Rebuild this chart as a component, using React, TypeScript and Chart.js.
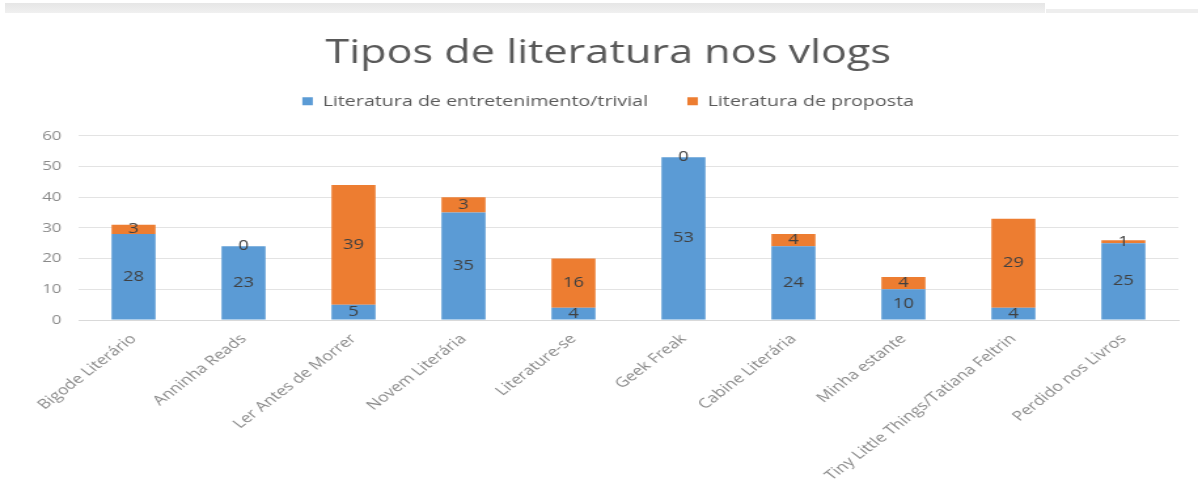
import React, { useEffect, useRef } from "react";
import { Chart, registerables } from "chart.js";

Chart.register(...registerables);

const categories = [
  "Bigode Literário",
  "Anninha Reads",
  "Ler Antes de Morrer",
  "Novem Literária",
  "Literature-se",
  "Geek Freak",
  "Cabine Literária",
  "Minha estante",
  "Tiny Little Things/Tatiana Feltrin",
  "Perdido nos Livros",
];
const entretenimento = [28, 24, 5, 35, 4, 53, 24, 10, 4, 25];
const proposta = [3, 0, 39, 5, 16, 0, 4, 4, 29, 1];
const entretenimentoLabels = ["28", "23", "5", "35", "4", "53", "24", "10", "4", "25"];
const propostaLabels = ["3", "0", "39", "3", "16", "0", "4", "4", "29", "1"];
const yTicks = [0, 10, 20, 30, 40, 50, 60];

const BLUE = "#5B9BD5";
const ORANGE = "#ED7D31";
const FONT = "'Open Sans', 'DejaVu Sans', sans-serif";

// the reference is horizontally stretched: draw narrower canvas and stretch it
const CANVAS_W = 935;
const STRETCH = 1198 / 915;

const labelPlugin = {
  id: "segLabels",
  afterDatasetsDraw(chart: any) {
    const ctx = chart.ctx;
    const sets = [entretenimentoLabels, propostaLabels];
    ctx.save();
    ctx.font = `14px ${FONT}`;
    ctx.fillStyle = "#404040";
    ctx.textAlign = "center";
    ctx.textBaseline = "middle";
    chart.data.datasets.forEach((ds: any, di: number) => {
      const meta = chart.getDatasetMeta(di);
      meta.data.forEach((bar: any, i: number) => {
        const y = (bar.y + bar.base) / 2;
        ctx.fillText(sets[di][i], bar.x, y);
      });
    });
    ctx.restore();
  },
};

export default function App() {
  const ref = useRef<HTMLCanvasElement>(null);
  useEffect(() => {
    if (!ref.current) return;
    const chart = new Chart(ref.current, {
      type: "bar",
      data: {
        labels: categories,
        datasets: [
          {
            label: "Literatura de entretenimento/trivial",
            data: entretenimento,
            backgroundColor: BLUE,
            barPercentage: 0.4,
            categoryPercentage: 1,
          },
          {
            label: "Literatura de proposta",
            data: proposta,
            backgroundColor: ORANGE,
            barPercentage: 0.4,
            categoryPercentage: 1,
          },
        ],
      },
      options: {
        responsive: false,
        animation: false,
        devicePixelRatio: 1,
        layout: { padding: { left: 0, right: 6, top: 44, bottom: 0 } },
        plugins: {
          title: {
            display: true,
            text: "Tipos de literatura nos vlogs",
            color: "#595959",
            font: { family: FONT, size: 33, weight: "normal" as any, lineHeight: 0.6 },
            padding: { top: 0, bottom: 0 },
          },
          legend: {
            display: true,
            labels: {
              color: "#595959",
              font: { family: FONT, size: 15 },
              boxWidth: 8,
              boxHeight: 8,
              padding: 30,
            },
          },
          tooltip: { enabled: false },
        },
        scales: {
          x: {
            stacked: true,
            grid: { display: false },
            border: { color: "#d9d9d9" },
            ticks: {
              color: "#8a8a8a",
              font: { family: FONT, size: 13.5 },
              maxRotation: 45,
              minRotation: 45,
              autoSkip: false,
            },
            afterFit(scale: any) {
              scale.height = 180;
            },
          },
          xTop: {
            type: "category",
            position: "top",
            grid: { display: false },
            border: { display: false },
            ticks: { display: false },
            afterFit(scale: any) {
              scale.height = 17;
            },
          },
          y: {
            stacked: true,
            min: 0,
            max: 60,
            grid: { color: "#e3e3e3", drawTicks: false },
            border: { display: false },
            ticks: {
              stepSize: 10,
              color: "#8a8a8a",
              font: { family: FONT, size: 13 },
              padding: 13,
              callback: (v: any) => (yTicks.includes(v) ? String(v) : ""),
            },
            afterFit(scale: any) {
              scale.width = 60;
            },
          },
          yRight: {
            position: "right",
            min: 0,
            max: 60,
            grid: { display: false },
            border: { display: false },
            ticks: { display: false },
            afterFit(scale: any) {
              scale.width = 29;
            },
          },
        },
      },
      plugins: [labelPlugin],
    });
    return () => chart.destroy();
  }, []);

  return (
    <div
      style={{
        position: "absolute",
        left: 0,
        top: 0,
        width: 1198,
        height: 500,
        background: "#fff",
        overflow: "hidden",
      }}
    >
      <canvas
        ref={ref}
        width={CANVAS_W}
        height={500}
        style={{
          position: "absolute",
          left: 0,
          top: 0,
          width: CANVAS_W,
          height: 500,
          transform: `scaleX(${STRETCH})`,
          transformOrigin: "0 0",
        }}
      />
      <div
        style={{
          position: "absolute",
          left: 5,
          top: 3,
          width: 1040,
          height: 10,
          background: "linear-gradient(#e6e6e6, #f0f0f0)",
        }}
      />
      <div
        style={{
          position: "absolute",
          left: 1046,
          top: 9,
          width: 152,
          height: 4,
          background: "#eeeeee",
        }}
      />
    </div>
  );
}
